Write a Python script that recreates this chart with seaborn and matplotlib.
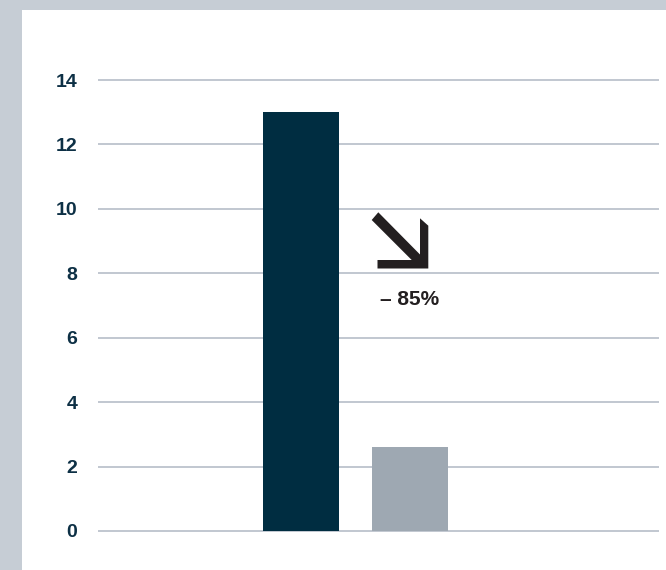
import matplotlib
matplotlib.use("Agg")
import matplotlib.pyplot as plt
import seaborn as sns
import pandas as pd
from matplotlib.patches import Polygon

categories = ["Before", "After"]
values = [13.0, 2.6]
bar_colors = ["#002d41", "#9ea8b2"]
yticks = [0, 2, 4, 6, 8, 10, 12, 14]
change_label = "\u2013 85%"

sns.set_theme(style="white")
plt.rcParams["font.family"] = ["Liberation Sans", "DejaVu Sans"]

W, H = 666, 570
fig = plt.figure(figsize=(W / 100, H / 100), dpi=100)
fig.patch.set_facecolor("#c6cdd5")
bg = fig.add_axes([22 / W, 0, 1 - 22 / W, 560 / H])
bg.set_facecolor("white")
bg.set_xticks([])
bg.set_yticks([])
for s in bg.spines.values():
    s.set_visible(False)
bg.set_zorder(0)

ax = fig.add_axes([98 / W, 0.0402, (659 - 98) / W, 0.9161 - 0.0402])
ax.set_facecolor("none")
ax.set_zorder(1)

df = pd.DataFrame({"cat": categories, "val": values})
sns.barplot(data=df, x="cat", y="val", hue="cat", palette=bar_colors, width=0.7,
            saturation=1, legend=False, ax=ax, zorder=3, linewidth=0)

ax.set_xlim(-1.862, 3.284)
ax.set_ylim(-0.5, 15)
ax.set_yticks(yticks)
ax.set_yticklabels([str(t) for t in yticks], fontsize=14, fontweight="bold", color="#0d3045")
ax.set_xticks([])
ax.set_xlabel("")
ax.set_ylabel("")
ax.tick_params(axis="y", length=0, pad=15)
for s in ax.spines.values():
    s.set_visible(False)
for t in yticks:
    ax.axhline(t, color="#b0b8c3", lw=1.1, zorder=1)

# annotation arrow (pixel coords converted to figure fraction)
pts = [(371.7, 220.0), (378.3, 212.3), (420, 254.5), (420, 218.3), (428.3, 225.7),
       (428.3, 268.5), (377.5, 268.5), (377.5, 260.0), (411.7, 260.0)]
poly = Polygon([(x / W, 1 - y / H) for x, y in pts], closed=True, transform=fig.transFigure,
               facecolor="#231f20", edgecolor="none", zorder=5)
ax.add_artist(poly)
poly.set_clip_on(False)
ax.text(409.5 / W, 1 - 299.5 / H, change_label, transform=fig.transFigure, ha="center",
        va="center", fontsize=15, fontweight="bold", color="#231f20", zorder=6)

fig.savefig("out.png", dpi=100, facecolor=fig.get_facecolor())
